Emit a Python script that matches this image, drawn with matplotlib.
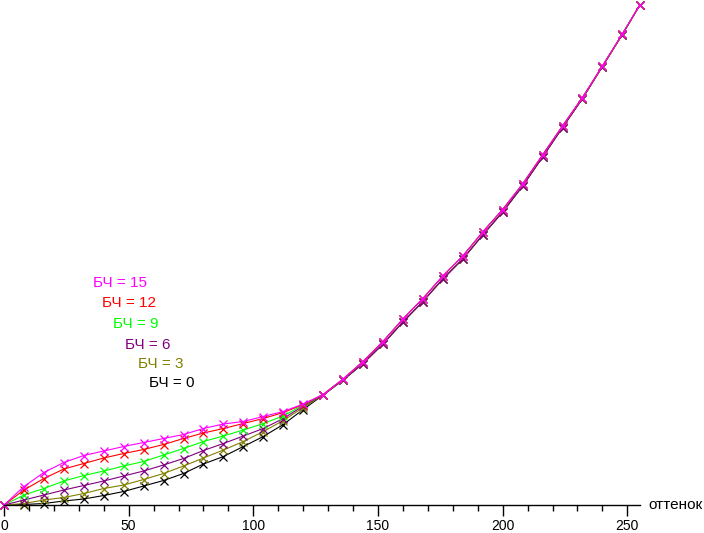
import matplotlib.pyplot as plt

# hue levels (оттенок), one marker every 8 steps
levels = [0, 8, 16, 24, 32, 40, 48, 56, 64, 72, 80, 88, 96, 104, 112, 120,
          128, 136, 144, 152, 160, 168, 176, 184, 192, 200, 208, 216, 224,
          232, 240, 248, 255]

# shared upper part of the curves (128..255)
tail_light = [0.221, 0.252, 0.287, 0.327, 0.372, 0.413, 0.458, 0.498, 0.546,
              0.591, 0.642, 0.700, 0.758, 0.815, 0.878, 0.942, 1.0]
tail_dark = [0.220, 0.250, 0.283, 0.322, 0.366, 0.407, 0.452, 0.492, 0.540,
             0.586, 0.638, 0.696, 0.755, 0.813, 0.877, 0.941, 1.0]

# lower part (0..120) per black level setting
bch15 = [0, 0.037, 0.065, 0.085, 0.099, 0.108, 0.117, 0.125, 0.133, 0.141,
         0.153, 0.162, 0.167, 0.177, 0.187, 0.202]
bch12 = [0, 0.030, 0.053, 0.072, 0.083, 0.094, 0.103, 0.111, 0.121, 0.133,
         0.144, 0.153, 0.163, 0.173, 0.185, 0.201]
bch9 = [0, 0.020, 0.033, 0.048, 0.059, 0.068, 0.078, 0.087, 0.100, 0.113,
        0.127, 0.138, 0.150, 0.163, 0.178, 0.200]
bch6 = [0, 0.010, 0.020, 0.030, 0.039, 0.048, 0.058, 0.068, 0.080, 0.093,
        0.109, 0.123, 0.138, 0.153, 0.173, 0.198]
bch3 = [0, 0.003, 0.010, 0.015, 0.023, 0.033, 0.040, 0.051, 0.063, 0.078,
        0.094, 0.110, 0.127, 0.147, 0.169, 0.195]
bch0 = [0, 0.001, 0.003, 0.008, 0.012, 0.019, 0.027, 0.038, 0.049, 0.063,
        0.082, 0.097, 0.117, 0.137, 0.161, 0.191]

series = [
    ("БЧ = 0", bch0 + tail_dark, "black"),
    ("БЧ = 3", bch3 + tail_dark, "#808000"),
    ("БЧ = 6", bch6 + tail_dark, "#800080"),
    ("БЧ = 9", bch9 + tail_light, "#00ff00"),
    ("БЧ = 12", bch12 + tail_light, "#ff0000"),
    ("БЧ = 15", bch15 + tail_light, "#ff00ff"),
]

plt.rcParams["font.family"] = ["Liberation Sans", "DejaVu Sans"]

fig = plt.figure(figsize=(7.04, 5.33), dpi=100)
ax = fig.add_axes([4 / 704, 28 / 533, 635.8 / 704, 500 / 533])

for name, vals, col in series:
    ax.plot(levels, vals, color=col, linewidth=0.8, marker="x",
            markersize=6, markeredgewidth=0.9, clip_on=False)

ax.set_xlim(0, 255)
ax.set_ylim(0, 1)
for s in ["top", "right", "left"]:
    ax.spines[s].set_visible(False)
ax.spines["bottom"].set_linewidth(1)
ax.set_yticks([])
ax.set_xticks([0, 50, 100, 150, 200, 250])
ax.set_xticks(range(0, 256, 10), minor=True)
ax.tick_params(axis="x", which="major", length=8, width=1, pad=2,
               labelsize=10)
ax.tick_params(axis="x", which="minor", length=4, width=1)

fig.text(648 / 704, 1 - 505 / 533, "оттенок", fontsize=11,
         ha="left", va="center")

# stacked legend labels
label_pos = [(149, 383), (138, 364), (125, 345), (113, 324), (102, 303),
             (93, 283)]
for (name, vals, col), (px, py) in zip(series, label_pos):
    fig.text(px / 704, 1 - py / 533, name, color=col, fontsize=11,
             ha="left", va="center")

fig.savefig("out.png", dpi=100)
